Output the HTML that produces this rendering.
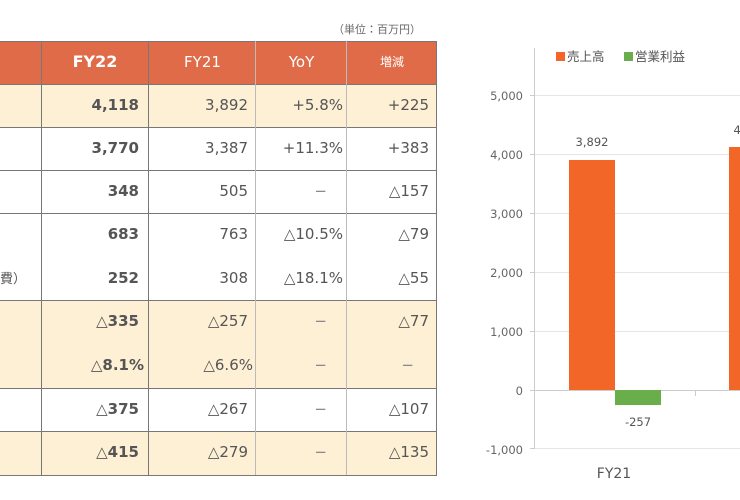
<!DOCTYPE html>
<html><head><meta charset="utf-8"><style>
body{margin:0;width:740px;height:500px;overflow:hidden;background:#fff;position:relative;font-family:"DejaVu Sans","Noto Sans CJK JP",sans-serif;color:#555}
.a{position:absolute}
.c{position:absolute;text-align:right;font-size:15px;line-height:18px;white-space:nowrap}
.b{font-weight:bold}
.d{color:#888}
</style></head><body>
<div class="a" style="left:333px;top:21px;font-size:11px;color:#666;font-family:'Noto Sans CJK JP',sans-serif">（単位：百万円）</div>
<svg class="a" style="left:0;top:0" width="740" height="500">
<rect x="0" y="41" width="437" height="43" fill="#e06b48"/>
<rect x="0" y="84" width="437" height="43" fill="#fdf0d5"/>
<rect x="0" y="300" width="437" height="88" fill="#fdf0d5"/>
<rect x="0" y="431" width="437" height="44" fill="#fdf0d5"/>
<g stroke="#777" stroke-width="1">
<line x1="0" y1="41.5" x2="437" y2="41.5"/>
<line x1="0" y1="84.5" x2="437" y2="84.5"/>
<line x1="0" y1="127.5" x2="437" y2="127.5"/>
<line x1="0" y1="170.5" x2="437" y2="170.5"/>
<line x1="0" y1="213.5" x2="437" y2="213.5"/>
<line x1="0" y1="300.5" x2="437" y2="300.5"/>
<line x1="0" y1="388.5" x2="437" y2="388.5"/>
<line x1="0" y1="431.5" x2="437" y2="431.5"/>
<line x1="0" y1="475.5" x2="437" y2="475.5"/>
<line x1="41.5" y1="41" x2="41.5" y2="475"/>
<line x1="148.5" y1="41" x2="148.5" y2="475"/>
<line x1="436.5" y1="41" x2="436.5" y2="475"/>
</g>
<g stroke="#bbb"><line x1="255.5" y1="41" x2="255.5" y2="475"/><line x1="346.5" y1="41" x2="346.5" y2="475"/></g>
<g stroke="#e6e6e6">
<line x1="534" y1="95.5" x2="740" y2="95.5"/><line x1="534" y1="154.5" x2="740" y2="154.5"/>
<line x1="534" y1="213.5" x2="740" y2="213.5"/><line x1="534" y1="272.5" x2="740" y2="272.5"/>
<line x1="534" y1="331.5" x2="740" y2="331.5"/><line x1="534" y1="448.5" x2="740" y2="448.5"/>
</g>
<line x1="534" y1="390.5" x2="740" y2="390.5" stroke="#ccc"/>
<line x1="534.5" y1="48" x2="534.5" y2="449" stroke="#ccc"/>
<g stroke="#ccc"><line x1="530" y1="95.5" x2="534" y2="95.5"/><line x1="530" y1="154.5" x2="534" y2="154.5"/><line x1="530" y1="213.5" x2="534" y2="213.5"/><line x1="530" y1="272.5" x2="534" y2="272.5"/><line x1="530" y1="331.5" x2="534" y2="331.5"/><line x1="530" y1="390.5" x2="534" y2="390.5"/><line x1="530" y1="448.5" x2="534" y2="448.5"/><line x1="695.5" y1="390" x2="695.5" y2="396"/></g>
<rect x="569" y="160" width="46" height="230" fill="#f26727"/>
<rect x="615" y="390" width="46" height="15" fill="#6aad4b"/>
<rect x="729" y="147" width="20" height="243" fill="#f26727"/>
<rect x="556" y="52" width="9" height="9" fill="#f26727"/>
<rect x="624" y="52" width="9" height="9" fill="#6aad4b"/>
<g font-size="11.5" fill="#666" text-anchor="end" font-family="DejaVu Sans,sans-serif">
<text x="523" y="100">5,000</text><text x="523" y="159">4,000</text><text x="523" y="218">3,000</text><text x="523" y="277">2,000</text><text x="523" y="336">1,000</text><text x="523" y="395">0</text><text x="523" y="454">-1,000</text>
</g>
<g font-size="11.5" fill="#555" text-anchor="middle" font-family="DejaVu Sans,sans-serif"><text x="592" y="146">3,892</text><text x="638" y="426">-257</text><text x="750" y="134">4,118</text></g>
<text x="614" y="478" font-size="14" fill="#555" text-anchor="middle" font-family="DejaVu Sans,sans-serif">FY21</text>
<g font-size="12.5" fill="#555" font-family="Noto Sans CJK JP,sans-serif"><text x="567" y="61">売上高</text><text x="635" y="61">営業利益</text></g>
</svg>
<div class="c b" style="left:41px;width:108px;top:53px;color:#fff;font-size:16px;text-align:center">FY22</div>
<div class="c" style="left:149px;width:107px;top:53px;color:#fff;text-align:center">FY21</div>
<div class="c" style="left:256px;width:91px;top:53px;color:#fff;text-align:center">YoY</div>
<div class="c" style="left:347px;width:90px;top:53px;color:#fff;text-align:center;font-size:12px;font-family:'Noto Sans CJK JP',sans-serif">増減</div>
<div class="c b" style="left:41px;width:98px;top:96px">4,118</div><div class="c" style="left:149px;width:99px;top:96px">3,892</div><div class="c" style="left:256px;width:87px;top:96px">+5.8%</div><div class="c" style="left:347px;width:82px;top:96px">+225</div>
<div class="c b" style="left:41px;width:98px;top:139px">3,770</div><div class="c" style="left:149px;width:99px;top:139px">3,387</div><div class="c" style="left:256px;width:87px;top:139px">+11.3%</div><div class="c" style="left:347px;width:82px;top:139px">+383</div>
<div class="c b" style="left:41px;width:98px;top:182px">348</div><div class="c" style="left:149px;width:99px;top:182px">505</div><div class="c d" style="left:256px;width:71px;top:182px">−</div><div class="c" style="left:347px;width:82px;top:182px">△157</div>
<div class="c b" style="left:41px;width:98px;top:225px">683</div><div class="c" style="left:149px;width:99px;top:225px">763</div><div class="c" style="left:256px;width:87px;top:225px">△10.5%</div><div class="c" style="left:347px;width:82px;top:225px">△79</div>
<div class="c" style="left:0;top:269px;font-size:13px;font-family:'Noto Sans CJK JP',sans-serif">費）</div>
<div class="c b" style="left:41px;width:98px;top:269px">252</div><div class="c" style="left:149px;width:99px;top:269px">308</div><div class="c" style="left:256px;width:87px;top:269px">△18.1%</div><div class="c" style="left:347px;width:82px;top:269px">△55</div>
<div class="c b" style="left:41px;width:98px;top:312px">△335</div><div class="c" style="left:149px;width:99px;top:312px">△257</div><div class="c d" style="left:256px;width:71px;top:312px">−</div><div class="c" style="left:347px;width:82px;top:312px">△77</div>
<div class="c b" style="left:41px;width:103px;top:356px">△8.1%</div><div class="c" style="left:149px;width:104px;top:356px">△6.6%</div><div class="c d" style="left:256px;width:71px;top:356px">−</div><div class="c d" style="left:347px;width:67px;top:356px">−</div>
<div class="c b" style="left:41px;width:98px;top:400px">△375</div><div class="c" style="left:149px;width:99px;top:400px">△267</div><div class="c d" style="left:256px;width:71px;top:400px">−</div><div class="c" style="left:347px;width:82px;top:400px">△107</div>
<div class="c b" style="left:41px;width:98px;top:443px">△415</div><div class="c" style="left:149px;width:99px;top:443px">△279</div><div class="c d" style="left:256px;width:71px;top:443px">−</div><div class="c" style="left:347px;width:82px;top:443px">△135</div>
</body></html>
